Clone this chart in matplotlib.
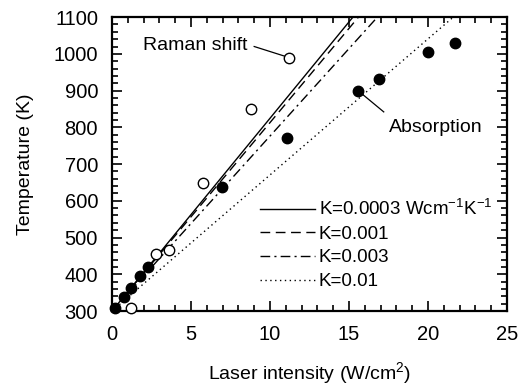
import numpy as np
import matplotlib
matplotlib.use("Agg")
import matplotlib.pyplot as plt
from matplotlib.ticker import MultipleLocator

plt.rcParams['font.family'] = ['Liberation Sans', 'DejaVu Sans']
plt.rcParams['mathtext.default'] = 'regular'

# absorption data (filled)
abs_I = [0.2, 0.76, 1.2, 1.77, 2.28, 6.96, 11.1, 15.6, 16.9, 20.0, 21.7]
abs_T = [307, 338, 362, 395, 420, 637, 771, 899, 931, 1005, 1029]

# raman shift data (open)
ram_I = [1.2, 2.8, 3.6, 5.75, 8.8, 11.2]
ram_T = [307, 455, 466, 648, 850, 990]

# model lines: intensity where T reaches 1100 K, starting at 300 K at 0
k_labels = ['K=0.0003 Wcm$^{-1}$K$^{-1}$', 'K=0.001', 'K=0.003', 'K=0.01']
k_I_end = [15.25, 15.6, 16.8, 21.6]
k_styles = ['-', (0, (7, 4)), (0, (7, 3, 1.5, 3)), (0, (1, 2.5))]

fig = plt.figure(figsize=(5.27, 3.89), dpi=100)
ax = fig.add_axes([0.2125, 0.2005, 0.7495, 0.7555])

for lab, xe, ls in zip(k_labels, k_I_end, k_styles):
    ax.plot([0, xe], [300, 1100], color='black', lw=1.0, linestyle=ls, label=lab)

ax.plot(abs_I, abs_T, 'o', color='black', ms=7.5, zorder=5, clip_on=False)
ax.plot(ram_I, ram_T, 'o', mfc='white', mec='black', mew=1.0, ms=7.5, zorder=5, clip_on=False)

ax.text(8.6, 1024, 'Raman shift', ha='right', va='center', fontsize=14)
ax.plot([9.0, 11.2], [1020, 990], color='black', lw=0.9)
ax.text(17.5, 800, 'Absorption', ha='left', va='center', fontsize=14)
ax.plot([15.6, 17.2], [899, 842], color='black', lw=0.9)

ax.set_xlim(0, 25)
ax.set_ylim(300, 1100)
ax.xaxis.set_major_locator(MultipleLocator(5))
ax.xaxis.set_minor_locator(MultipleLocator(1))
ax.yaxis.set_major_locator(MultipleLocator(100))
ax.yaxis.set_minor_locator(MultipleLocator(20))
ax.tick_params(which='both', direction='in', top=True, right=True, width=1.2)
ax.tick_params(which='major', length=7, labelsize=14.5, pad=10)
ax.tick_params(which='minor', length=4)
for sp in ax.spines.values():
    sp.set_linewidth(1.6)

ax.set_xlabel('Laser intensity (W/cm$^2$)', fontsize=14, labelpad=12)
ax.set_ylabel('Temperature (K)', fontsize=14, labelpad=14)

ax.legend(loc='lower right', bbox_to_anchor=(1.0, 0.02), frameon=False, fontsize=13.5,
          handlelength=2.9, handletextpad=0.2, labelspacing=0.35, borderpad=0.3)

fig.savefig('out.png', dpi=100)
